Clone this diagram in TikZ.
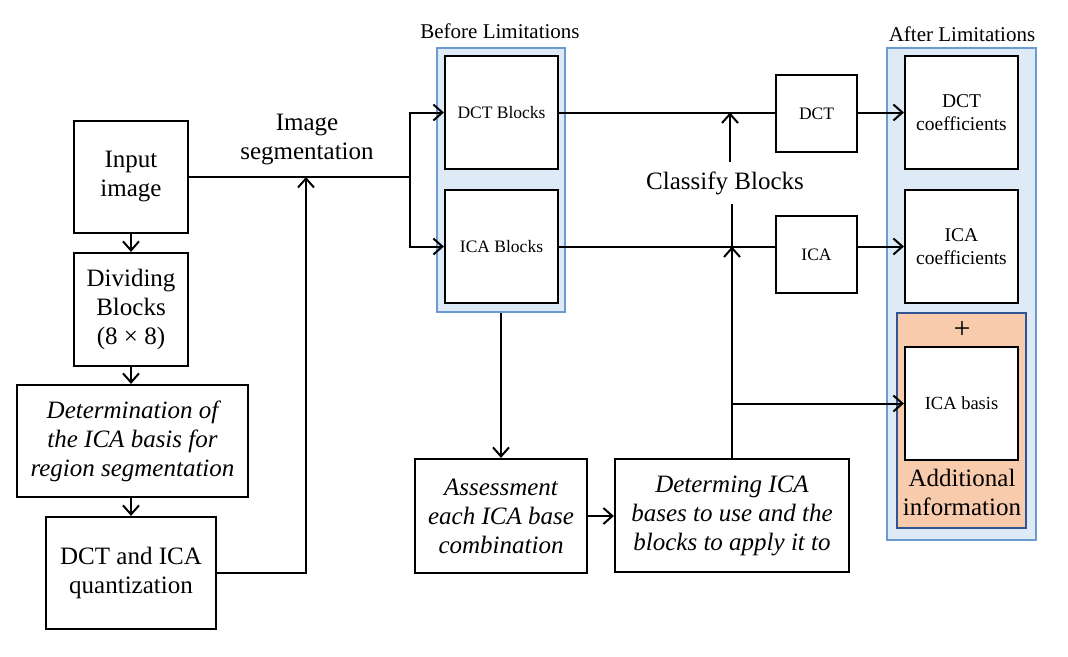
\documentclass[tikz,border=0pt]{standalone}
\usepackage{fontspec}
\setmainfont{Liberation Serif}
\usetikzlibrary{arrows.meta}
\definecolor{bfill}{HTML}{DEEBF7}
\definecolor{bline}{HTML}{6C9BD2}
\definecolor{ofill}{HTML}{F8CBAD}
\definecolor{oline}{HTML}{2F5597}
\begin{document}
\begin{tikzpicture}[x=1pt,y=-1pt,
  box/.style={draw, line width=2.2pt, fill=white, align=center, inner sep=0pt, font=\fontsize{25}{29}\selectfont},
  sbox/.style={box, font=\fontsize{17.5}{21}\selectfont},
  cbox/.style={box, font=\fontsize{19.5}{23}\selectfont},
  ibox/.style={box, font=\fontsize{25}{29}\selectfont\itshape},
  frame/.style={draw=bline, fill=bfill, line width=2pt, inner sep=0pt},
  oframe/.style={draw=oline, fill=ofill, line width=2pt, inner sep=0pt},
  lbl/.style={align=center, inner sep=0pt, font=\fontsize{25}{29}\selectfont},
  tlbl/.style={align=center, inner sep=0pt, font=\fontsize{21}{25}\selectfont},
  conn/.style={line width=2pt},
  arr/.style={conn, -{Straight Barb[length=9pt,width=16pt,line width=2pt]}}]
\useasboundingbox (0,0) rectangle (1068,656);
% group frames
\node[frame, minimum width=128pt, minimum height=264pt] (beforeframe) at (501,180) {};
\node[frame, minimum width=149pt, minimum height=492pt] (afterframe) at (961.5,294) {};
\node[oframe, minimum width=129pt, minimum height=215pt] (addframe) at (961.5,420.5) {};
\node[tlbl] (beforelbl) at (500,31) {Before Limitations};
\node[tlbl] (afterlbl) at (962,34) {After Limitations};
\node[lbl, font=\fontsize{30}{34}\selectfont] (plus) at (962,330) {+};
\node[lbl] (addlbl) at (962,492) {Additional\\information};
% left column
\node[box, minimum width=114pt, minimum height=112pt] (inp) at (131,177) {Input\\image};
\node[box, minimum width=114pt, minimum height=113pt] (div) at (131,309.5) {Dividing\\Blocks\\(8 \texttimes{} 8)};
\node[ibox, minimum width=231pt, minimum height=112pt] (det) at (132.5,441) {Determination of\\the ICA basis for\\region segmentation};
\node[box, minimum width=170pt, minimum height=112pt] (quant) at (131,573) {DCT and ICA\\quantization};
\node[lbl] (seglbl) at (307,140) {Image\\segmentation};
% blocks
\node[sbox, minimum width=113pt, minimum height=113pt] (dctb) at (501.5,112.5) {DCT Blocks};
\node[sbox, minimum width=113pt, minimum height=113pt] (icab) at (501.5,246.5) {ICA Blocks};
\node[sbox, minimum width=81pt, minimum height=77pt] (dct) at (816.5,113.5) {DCT};
\node[sbox, minimum width=81pt, minimum height=77pt] (ica) at (816.5,254.5) {ICA};
\node[cbox, minimum width=113pt, minimum height=113pt] (dctc) at (961.5,112.5) {DCT\\coefficients};
\node[cbox, minimum width=113pt, minimum height=113pt] (icac) at (961.5,246.5) {ICA\\coefficients};
\node[box, font=\fontsize{18.5}{22}\selectfont, minimum width=113pt, minimum height=113pt] (icabasis) at (961.5,403.5) {ICA basis};
\node[lbl] (classlbl) at (725,183) {Classify Blocks};
% bottom
\node[ibox, minimum width=172pt, minimum height=114pt] (assess) at (501,516) {Assessment\\each ICA base\\combination};
\node[ibox, minimum width=234pt, minimum height=113pt] (determ) at (732,515.5) {Determing ICA\\bases to use and the\\blocks to apply it to};
% coordinates
\coordinate (split) at (410,177);
\coordinate (segin) at (306,177);
\coordinate (cu) at (730,162);
\coordinate (cl) at (732,204);
% connectors
\draw[arr] (inp.south) -- (div.north);
\draw[arr] (div.south) -- (div.south |- det.north);
\draw[arr] (div.south |- det.south) -- (div.south |- quant.north);
\draw[conn] (inp.east) -- (split);
\draw[arr] (split) |- (dctb.west);
\draw[arr] (split) |- (icab.west);
\draw[arr] (quant.east) -| (segin);
\draw[conn] (dctb.east) -- (dctb.east -| dct.west);
\draw[arr] (dctc.west -| dct.east) -- (dctc.west);
\draw[conn] (icab.east) -- (icab.east -| ica.west);
\draw[arr] (icac.west -| ica.east) -- (icac.west);
\draw[arr] (cu) -- (cu |- dctb.east);
\draw[conn] (determ.north) -- (cl);
\draw[arr] (determ.north) -- (determ.north |- icab.east);
\draw[arr] (determ.north |- icabasis.west) -- (icabasis.west);
\draw[arr] (beforeframe.south) -- (assess.north);
\draw[arr] (assess.east) -- (assess.east -| determ.west);
\end{tikzpicture}
\end{document}
